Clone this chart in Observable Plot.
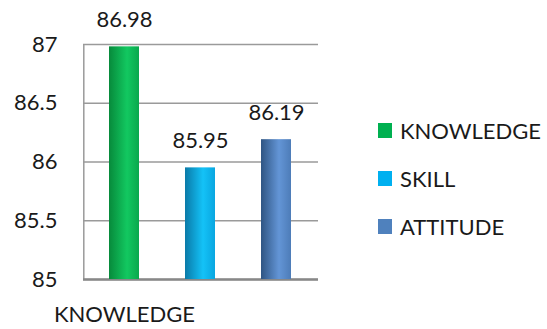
<!DOCTYPE html>
<html>
<head>
<meta charset="utf-8">
<script src="https://cdn.jsdelivr.net/npm/d3@7"></script>
<script src="https://cdn.jsdelivr.net/npm/@observablehq/plot@0.6"></script>
<style>
  html, body { margin: 0; padding: 0; background: #fff; }
  #wrap { position: relative; width: 547px; height: 329px; font-family: Lato, "Open Sans", sans-serif; }
  #legend { position: absolute; left: 378px; top: 106px; }
  .item { display: flex; align-items: center; height: 48px; font-size: 22px; color: #1a1a1a; }
  .sw { width: 14px; height: 15px; margin-right: 8px; }
</style>
</head>
<body>
<div id="wrap"></div>
<script>
const series = ["KNOWLEDGE", "SKILL", "ATTITUDE"];
const values = [86.98, 85.95, 86.19];
const colors = ["#00B050", "#00B0F0", "#4F81BD"];
const gradStops = [
  ["#078a3b", "#12c860", "#0aa84d"],
  ["#0a7aa8", "#14c2f7", "#09a6e0"],
  ["#2f5583", "#6395d6", "#4d7cb8"]
];
const yTicks = [85, 85.5, 86, 86.5, 87];
const categoryLabels = ["KNOWLEDGE"];

const data = series.map((s, i) => ({series: s, value: values[i], grad: `url(#g${i})`}));

const chart = Plot.plot({
  width: 547,
  height: 329,
  marginLeft: 83,
  marginRight: 229,
  marginTop: 44,
  marginBottom: 50,
  style: {fontFamily: "Lato, 'Open Sans', sans-serif", fontSize: "22px", color: "#1a1a1a", background: "transparent"},
  x: {domain: series, paddingInner: 0.6, paddingOuter: 0.33, axis: null},
  y: {domain: [85, 87], ticks: yTicks, tickFormat: d => String(d), label: null, tickSize: 0, tickPadding: 26},
  marks: [
    Plot.gridY(yTicks, {stroke: "#9a9a9a", strokeOpacity: 1, strokeWidth: 1.5}),
    Plot.ruleX([series[0]], {x: d => d, y1: 85, y2: 87, dx: -40.7, stroke: "#9a9a9a", strokeWidth: 1.5}),
    Plot.ruleY([85], {stroke: "#888", strokeWidth: 2.5}),
    Plot.barY(data, {x: "series", y1: 85, y2: "value", fill: "grad"}),
    Plot.text(data, {x: "series", y: "value", text: d => d.value.toFixed(2), dy: -27, fontSize: 22, fill: "#1a1a1a"}),
    Plot.text(categoryLabels, {x: d => d, frameAnchor: "bottom", text: d => d, dy: 42, fontSize: 22, fill: "#1a1a1a"})
  ]
});

// gradients for cylinder-like bars
const ns = "http://www.w3.org/2000/svg";
const defs = document.createElementNS(ns, "defs");
gradStops.forEach((st, i) => {
  const g = document.createElementNS(ns, "linearGradient");
  g.setAttribute("id", "g" + i);
  g.setAttribute("x1", "0"); g.setAttribute("x2", "1"); g.setAttribute("y1", "0"); g.setAttribute("y2", "0");
  [[0, st[0]], [0.6, st[1]], [1, st[2]]].forEach(([o, c]) => {
    const s = document.createElementNS(ns, "stop");
    s.setAttribute("offset", o); s.setAttribute("stop-color", c);
    g.appendChild(s);
  });
  defs.appendChild(g);
});
chart.insertBefore(defs, chart.firstChild);

const wrap = document.getElementById("wrap");
wrap.appendChild(chart);

const legend = document.createElement("div");
legend.id = "legend";
series.forEach((s, i) => {
  const it = document.createElement("div");
  it.className = "item";
  const sw = document.createElement("div");
  sw.className = "sw";
  sw.style.background = colors[i];
  const t = document.createElement("span");
  t.textContent = s;
  it.appendChild(sw); it.appendChild(t);
  legend.appendChild(it);
});
wrap.appendChild(legend);
</script>
</body>
</html>
